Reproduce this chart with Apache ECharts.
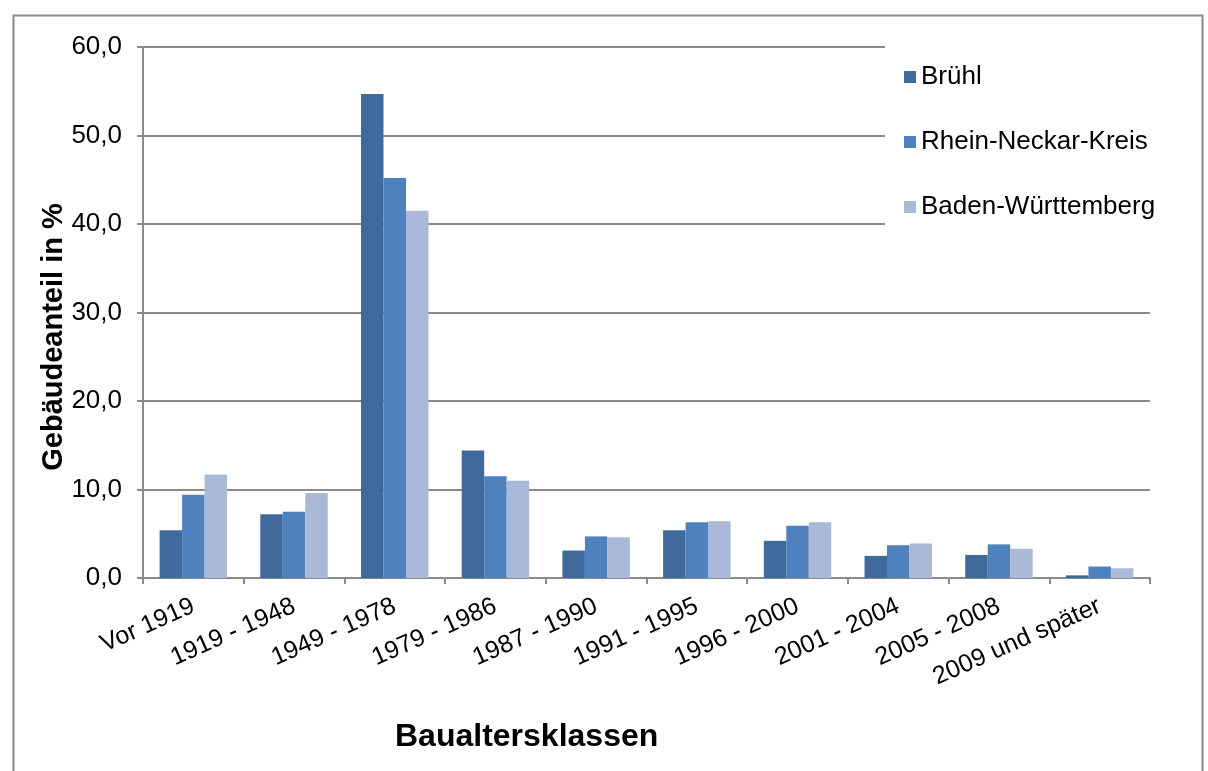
<!DOCTYPE html>
<html>
<head>
<meta charset="utf-8">
<script src="https://cdn.jsdelivr.net/npm/echarts@6/dist/echarts.min.js"></script>
<style>
html, body { margin: 0; padding: 0; background: #fff; }
#chart { width: 1208px; height: 771px; }
</style>
</head>
<body>
<div id="chart"></div>
<script>
var categories = ['Vor 1919', '1919 - 1948', '1949 - 1978', '1979 - 1986', '1987 - 1990',
    '1991 - 1995', '1996 - 2000', '2001 - 2004', '2005 - 2008', '2009 und später'];
var bruehl = [5.4, 7.2, 54.7, 14.4, 3.1, 5.4, 4.2, 2.5, 2.6, 0.3];
var rheinNeckar = [9.4, 7.5, 45.2, 11.5, 4.7, 6.3, 5.9, 3.7, 3.8, 1.3];
var badenWuerttemberg = [11.7, 9.6, 41.5, 11.0, 4.6, 6.4, 6.3, 3.9, 3.3, 1.1];

var fontFamily = 'Helvetica, "Liberation Sans", Arial, sans-serif';
var gridColor = '#8a8a8a';

var myChart = echarts.init(document.getElementById('chart'));

var option = {
    backgroundColor: '#fff',
    animation: false,
    textStyle: { fontFamily: fontFamily },
    grid: {
        left: 143,
        right: 58,
        top: 47,
        bottom: 193
    },
    legend: {
        orient: 'vertical',
        left: 885,
        top: 43,
        padding: [21, 20, 25, 19],
        backgroundColor: '#fff',
        itemWidth: 12,
        itemHeight: 12,
        itemGap: 39,
        icon: 'rect',
        textStyle: { fontSize: 26, color: '#000', fontFamily: fontFamily },
        data: ['Brühl', 'Rhein-Neckar-Kreis', 'Baden-Württemberg']
    },
    xAxis: {
        type: 'category',
        data: categories,
        axisLine: { lineStyle: { color: gridColor, width: 2 } },
        axisTick: { show: true, length: 6, lineStyle: { color: gridColor, width: 2 } },
        axisLabel: {
            interval: 0,
            rotate: 24,
            margin: 27,
            fontSize: 25,
            color: '#000',
            fontFamily: fontFamily
        }
    },
    yAxis: {
        type: 'value',
        min: 0,
        max: 60,
        interval: 10,
        axisLine: { show: true, lineStyle: { color: gridColor, width: 2 } },
        axisTick: { show: true, length: 6, lineStyle: { color: gridColor, width: 2 } },
        splitLine: { lineStyle: { color: gridColor, width: 2 } },
        axisLabel: {
            margin: 21,
            fontSize: 26,
            color: '#000',
            fontFamily: fontFamily,
            formatter: function (v) { return v.toFixed(1).replace('.', ','); }
        }
    },
    graphic: [{
        type: 'rect',
        left: 11,
        top: 13,
        shape: { width: 1189, height: 800 },
        style: { fill: 'none', stroke: gridColor, lineWidth: 2 },
        silent: true
    }, {
        type: 'text',
        x: 54,
        y: 337,
        rotation: Math.PI / 2,
        style: {
            text: 'Gebäudeanteil in %',
            fontSize: 29,
            fontWeight: 'bold',
            fill: '#000',
            fontFamily: fontFamily,
            align: 'center',
            verticalAlign: 'middle'
        }
    }, {
        type: 'text',
        x: 395,
        y: 737,
        style: {
            text: 'Baualtersklassen',
            fontSize: 32,
            fontWeight: 'bold',
            fill: '#000',
            fontFamily: fontFamily,
            align: 'left',
            verticalAlign: 'middle'
        }
    }],
    series: [{
        name: 'Brühl',
        type: 'bar',
        data: bruehl,
        barGap: '0%',
        barCategoryGap: '33%',
        itemStyle: { color: '#406A9C' }
    }, {
        name: 'Rhein-Neckar-Kreis',
        type: 'bar',
        data: rheinNeckar,
        itemStyle: { color: '#4F81BD' }
    }, {
        name: 'Baden-Württemberg',
        type: 'bar',
        data: badenWuerttemberg,
        itemStyle: { color: '#AAB9D8' }
    }]
};
myChart.setOption(option);
</script>
</body>
</html>
